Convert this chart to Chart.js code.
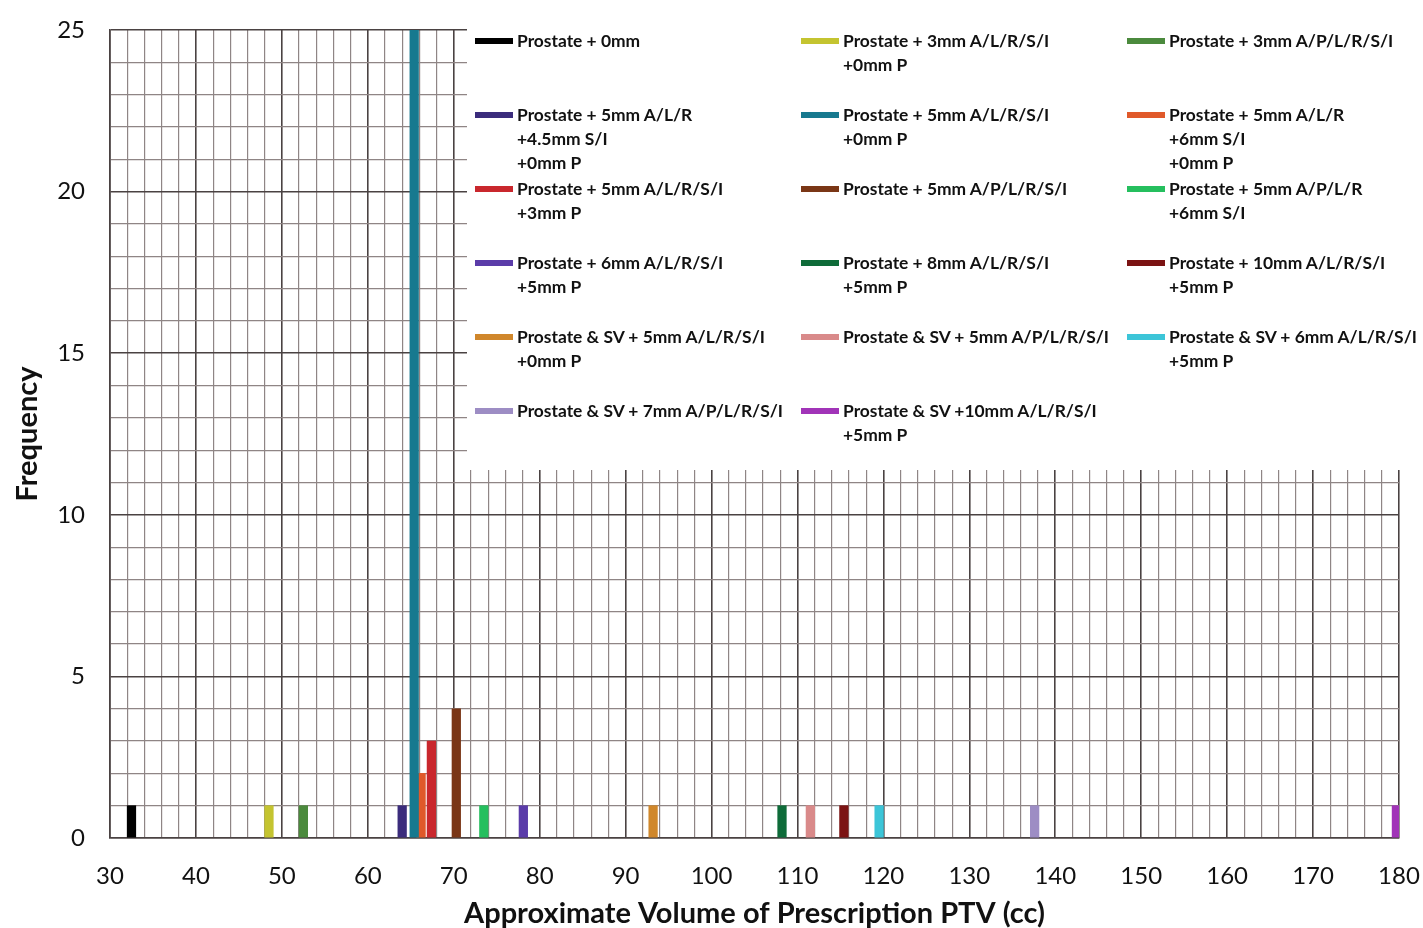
<!DOCTYPE html>
<html>
<head>
<meta charset="utf-8">
<script src="https://cdn.jsdelivr.net/npm/chart.js@4/dist/chart.umd.min.js"></script>
<style>
  html, body { margin: 0; padding: 0; background: #ffffff; }
  #wrap { position: relative; width: 1423px; height: 928px; overflow: hidden; }
  #chart { position: absolute; left: 0; top: 0; }
  #legendBox { position: absolute; left: 467px; top: 28px; width: 956px; height: 442px; background: #ffffff; }
  #legend { position: absolute; left: 475px; top: 29px; display: grid;
    grid-template-columns: 326px 326px 326px; grid-auto-rows: 74px; }
  .item { display: flex; align-items: flex-start; font-family: Lato, "Open Sans", sans-serif;
    font-weight: 700; font-size: 17.4px; line-height: 24px; color: #111; white-space: nowrap; }
  .sw { width: 38px; height: 6px; margin-top: 9px; margin-right: 4px; flex: none; }
</style>
</head>
<body>
<div id="wrap">
  <canvas id="chart" width="1423" height="928"></canvas>
  <div id="legendBox"></div>
  <div id="legend"></div>
</div>
<script>
// ---- data ----
const seriesLabels = [
  "Prostate + 0mm",
  "Prostate + 3mm A/L/R/S/I\n+0mm P",
  "Prostate + 3mm A/P/L/R/S/I",
  "Prostate + 5mm A/L/R\n+4.5mm S/I\n+0mm P",
  "Prostate + 5mm A/L/R/S/I\n+0mm P",
  "Prostate + 5mm A/L/R\n+6mm S/I\n+0mm P",
  "Prostate + 5mm A/L/R/S/I\n+3mm P",
  "Prostate + 5mm A/P/L/R/S/I",
  "Prostate + 5mm A/P/L/R\n+6mm S/I",
  "Prostate + 6mm A/L/R/S/I\n+5mm P",
  "Prostate + 8mm A/L/R/S/I\n+5mm P",
  "Prostate + 10mm A/L/R/S/I\n+5mm P",
  "Prostate & SV + 5mm A/L/R/S/I\n+0mm P",
  "Prostate & SV + 5mm A/P/L/R/S/I",
  "Prostate & SV + 6mm A/L/R/S/I\n+5mm P",
  "Prostate & SV + 7mm A/P/L/R/S/I",
  "Prostate & SV +10mm A/L/R/S/I\n+5mm P"
];
const seriesVolumes = [32.5, 48.5, 52.5, 64.0, 65.4, 66.2, 67.4, 70.3, 73.5, 78.1, 108.2, 115.4, 93.2, 111.5, 119.5, 137.6, 179.7];
const seriesFrequencies = [1, 1, 1, 1, 25, 2, 3, 4, 1, 1, 1, 1, 1, 1, 1, 1, 1];
const seriesColors = ["#000000", "#c4c430", "#4b8a3d", "#3b2c7c", "#17798f", "#e0592a", "#c9272d", "#7a3616",
  "#25bf5e", "#5b3ca9", "#0e6b39", "#7b1313", "#d0872b", "#d98a8a", "#3cc5d8", "#9d8dc4", "#a134b8"];
const xTickLabels = [30, 40, 50, 60, 70, 80, 90, 100, 110, 120, 130, 140, 150, 160, 170, 180];
const yTickLabels = [0, 5, 10, 15, 20, 25];

// ---- legend (HTML, built from the arrays) ----
const legendEl = document.getElementById('legend');
seriesLabels.forEach((lab, i) => {
  const it = document.createElement('div'); it.className = 'item';
  const sw = document.createElement('div'); sw.className = 'sw'; sw.style.background = seriesColors[i];
  const tx = document.createElement('div'); tx.innerHTML = lab.split('\n').join('<br>');
  it.appendChild(sw); it.appendChild(tx); legendEl.appendChild(it);
});

const datasets = seriesLabels.map((lab, i) => ({
  label: lab.replace(/\n/g, ' '),
  data: [{ x: seriesVolumes[i], y: seriesFrequencies[i] }],
  backgroundColor: seriesColors[i],
  borderWidth: 0,
  barThickness: 8.6,
  grouped: false
}));

const minorGrid = '#8f8585', majorGrid = '#4a4242';
const FONT = 'Lato, "Open Sans", sans-serif';

new Chart(document.getElementById('chart'), {
  type: 'bar',
  data: { datasets },
  options: {
    responsive: false,
    animation: false,
    layout: { padding: { top: 30, right: 24, left: 0, bottom: 0 } },
    plugins: { legend: { display: false }, tooltip: { enabled: false } },
    scales: {
      x: {
        type: 'linear', min: 30, max: 180, offset: false,
        grid: { offset: false, drawTicks: false,
          color: c => (c.tick && c.tick.value % 10 === 0) ? majorGrid : minorGrid,
          lineWidth: c => (c.tick && c.tick.value % 10 === 0) ? 1.6 : 1.2 },
        border: { color: majorGrid, width: 1.6 },
        ticks: { stepSize: 2, autoSkip: false, maxRotation: 0, padding: 24, color: '#111',
          font: { family: FONT, size: 24 },
          callback: v => xTickLabels.includes(v) ? String(v) : '' },
        title: { display: true, text: 'Approximate Volume of Prescription PTV (cc)', color: '#111',
          font: { family: FONT, size: 29, weight: 'bold', lineHeight: 1.0 }, padding: { top: 0, bottom: 0 } },
        afterFit: s => { s.height = 90; s.paddingLeft = 0; s.paddingRight = 0; s.paddingTop = 0; s.paddingBottom = 0; }
      },
      y: {
        min: 0, max: 25,
        grid: { drawTicks: false,
          color: c => (c.tick && c.tick.value % 5 === 0) ? majorGrid : minorGrid,
          lineWidth: c => (c.tick && c.tick.value % 5 === 0) ? 1.6 : 1.2 },
        border: { color: majorGrid, width: 1.6 },
        ticks: { stepSize: 1, autoSkip: false, padding: 25, color: '#111',
          font: { family: FONT, size: 24 },
          callback: v => yTickLabels.includes(v) ? String(v) : '' },
        title: { display: true, text: 'Frequency', color: '#111',
          font: { family: FONT, size: 29, weight: 'bold', lineHeight: 1.0 }, padding: { top: 13, bottom: 0 } },
        afterFit: s => { s.width = 110; s.paddingLeft = 0; s.paddingRight = 0; s.paddingTop = 0; s.paddingBottom = 0; }
      }
    }
  }
});
</script>
</body>
</html>
